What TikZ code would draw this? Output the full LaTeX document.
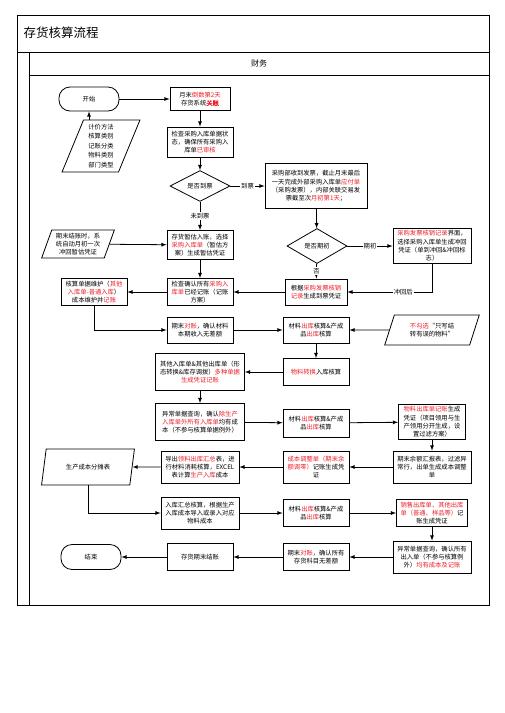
\documentclass[tikz,border=0pt]{standalone}
\usepackage{fontspec}
\setmainfont{Noto Sans CJK SC}[AutoFakeBold=2]
\usepackage{xcolor}
\usetikzlibrary{arrows}
\usetikzlibrary{shapes.geometric}
\definecolor{myred}{RGB}{235, 30, 40}
\newcommand{\redtxt}[1]{\textcolor{myred}{#1}}

\tikzset{
  procbox/.style={draw, line width=0.8pt, rectangle, align=center, inner sep=1pt,
    font=\fontsize{6.3}{8.3}\selectfont},
  termbox/.style={procbox, rounded corners=11pt},
  databox/.style={procbox, trapezium, trapezium left angle=70, trapezium right angle=110,
    trapezium stretches=true},
  decbox/.style={procbox, diamond, inner sep=0pt},
  lbl/.style={fill=white, inner sep=1pt, font=\fontsize{6.3}{8}\selectfont},
  flow/.style={line width=0.8pt, -latex},
}

\begin{document}
\begin{tikzpicture}[x=1pt, y=-1pt]
  \useasboundingbox (0,0) rectangle (504,713);

  % frame and lane
  \draw[line width=0.9pt] (17,15) rectangle (489,605);
  \draw[line width=0.9pt] (17,52) -- (489,52);
  \draw[line width=0.9pt] (29,52) -- (29,605);
  \draw[line width=0.9pt] (29,75) -- (489,75);
  \node[anchor=west, font=\fontsize{12.5}{14}\selectfont] (title) at (20,33) {存货核算流程};
  \node[font=\fontsize{8}{10}\selectfont] (lane) at (259,63) {财务};

  % column 1
  \node[termbox, minimum width=60pt, minimum height=24pt] (start) at (89,99) {开始};
  \node[databox, minimum width=78pt, minimum height=52pt, font=\fontsize{6.3}{9.5}\selectfont] (param) at (101,146)
    {计价方法\\核算类别\\记账分类\\物料类别\\部门类型};
  \node[databox, minimum width=73pt, minimum height=28pt] (autorev) at (78,244)
    {期末结账时，系\\统自动月初一次\\冲回暂估凭证};
  \node[procbox, minimum width=66pt, minimum height=27pt] (otherin) at (94,292)
    {核算单据维护（\redtxt{其他}\\\redtxt{入库单-普通入库}）\\成本维护并\redtxt{记账}};
  \node[databox, minimum width=93pt, minimum height=36pt, trapezium left angle=72,
    trapezium right angle=108] (alloc) at (88,467) {生产成本分摊表};
  \node[termbox, minimum width=60pt, minimum height=25pt] (finish) at (91,557) {结束};

  % column 2
  \node[procbox, minimum width=60pt, minimum height=23pt] (close) at (200,99)
    {月末\redtxt{倒数第2天}\\存货系统\redtxt{\textbf{关账}}};
  \node[procbox, minimum width=66pt, minimum height=30pt] (chkin) at (200,142)
    {检查采购入库单据状\\态，确保所有采购入\\库单\redtxt{已审核}};
  \node[decbox, minimum width=60pt, minimum height=30pt] (ifinv) at (200,186) {是否到票};
  \node[procbox, minimum width=66pt, minimum height=29pt] (estim) at (200,245)
    {存货暂估入账，选择\\\redtxt{采购入库单}（暂估方\\案）生成暂估凭证};
  \node[procbox, minimum width=66pt, minimum height=27pt] (chkpost) at (200,292)
    {检查确认所有\redtxt{采购入}\\\redtxt{库单}已经记账（记账\\方案）};
  \node[procbox, minimum width=66pt, minimum height=26pt] (recon) at (200,330)
    {期末\redtxt{对账}，确认材料\\本期收入无差额};
  \node[procbox, minimum width=89pt, minimum height=37pt] (othvch) at (200,372)
    {其他入库单\&其他出库单（形\\态转换\&库存调拨）\redtxt{多种单据}\\\redtxt{生成凭证记账}};
  \node[procbox, minimum width=89pt, minimum height=37pt] (chkcost) at (200,422)
    {异常单据查询，确认\redtxt{除生产}\\\redtxt{入库单外所有入库单}均有成\\本（不参与核算单据例外）};
  \node[procbox, minimum width=78pt, minimum height=32pt] (export) at (200,467)
    {导出\redtxt{领料出库汇总}表，进\\行材料消耗核算，EXCEL\\表计算\redtxt{生产入库}成本};
  \node[procbox, minimum width=78pt, minimum height=32pt] (incost) at (200,513)
    {入库汇总核算，根据生产\\入库成本导入或录入对应\\物料成本};
  \node[procbox, minimum width=66pt, minimum height=27pt] (yclose) at (200,557) {存货期末结账};

  % column 3
  \node[procbox, minimum width=102pt, minimum height=45pt] (purinv) at (316,186)
    {采购部收到发票，截止月末最后\\一天完成外部采购入库单\redtxt{应付单}\\（采购发票），内部关联交易发\\票截至次\redtxt{月初第1天}；};
  \node[decbox, minimum width=60pt, minimum height=35pt] (ifopen) at (317,246) {是否期初};
  \node[procbox, minimum width=62pt, minimum height=26pt] (invvch) at (316,292)
    {根据\redtxt{采购发票核销}\\\redtxt{记录}生成到票凭证};
  \node[procbox, minimum width=66pt, minimum height=26pt] (outcalc) at (316,330)
    {材料\redtxt{出库}核算\&产成\\品\redtxt{出库}核算};
  \node[procbox, minimum width=66pt, minimum height=27pt] (convin) at (316,372) {\redtxt{物料转换}入库核算};
  \node[procbox, minimum width=66pt, minimum height=28pt] (outcalcb) at (316,423)
    {材料\redtxt{出库}核算\&产成\\品\redtxt{出库}核算};
  \node[procbox, minimum width=66pt, minimum height=32pt] (adjvch) at (316,467)
    {\redtxt{成本调整单（期末余}\\\redtxt{额调零）}记账生成凭\\证};
  \node[procbox, minimum width=66pt, minimum height=27pt] (outcalcc) at (316,513)
    {材料\redtxt{出库}核算\&产成\\品\redtxt{出库}核算};
  \node[procbox, minimum width=66pt, minimum height=27pt] (finrecon) at (316,557)
    {期末\redtxt{对账}，确认所有\\存货科目无差额};

  % column 4
  \node[procbox, minimum width=78pt, minimum height=35pt] (revvch) at (432,246)
    {\redtxt{采购发票核销记录}界面，\\选择采购入库单生成冲回\\凭证（单到冲回\&冲回标\\志）};
  \node[databox, minimum width=95pt, minimum height=30pt] (nosel) at (432,330)
    {\redtxt{不勾选}“只写结\\转有误的物料”};
  \node[procbox, minimum width=67pt, minimum height=35pt] (outvch) at (432,422)
    {\redtxt{物料出库单记账}生成\\凭证（项目领用与生\\产领用分开生成，设\\置过滤方案）};
  \node[procbox, minimum width=78pt, minimum height=32pt] (balrep) at (432,467)
    {期末余额汇报表，过滤异\\常行，出单生成成本调整\\单};
  \node[procbox, minimum width=71pt, minimum height=27pt] (salevch) at (432,513)
    {\redtxt{销售出库单、其他出库}\\\redtxt{单（普通、样品等）}记\\账生成凭证};
  \node[procbox, minimum width=78pt, minimum height=32pt] (chkall) at (432,557)
    {异常单据查询，确认所有\\出入单（不参与核算例\\外）\redtxt{均有成本及记账}};

  % connectors
  \draw[flow] (start) -- (close);
  \draw[flow] (param.north -| start.south) -- (start.south);
  \draw[flow] (close) -- (chkin);
  \draw[flow] (chkin) -- (ifinv);
  \draw[flow] (ifinv) -- node[lbl] (lbhas) {到票} (purinv);
  \draw[flow] (ifinv) -- node[lbl] (lbnone) {未到票} (estim);
  \draw[flow] (autorev) -- (estim);
  \draw[flow] (estim) -- (chkpost);
  \draw[flow] (purinv) -- (ifopen);
  \draw[flow] (ifopen) -- node[lbl] (lbopen) {期初} (revvch);
  \draw[flow] (ifopen) -- node[lbl] (lbno) {否} (invvch);
  \draw[flow] (revvch.south) |- node[lbl, pos=0.67] (lbrev) {冲回后} (invvch.east);
  \draw[flow] (invvch) -- (chkpost);
  \draw[flow] (chkpost) -- (otherin);
  \draw[flow] (otherin.south) |- (recon.west);
  \draw[flow] (recon) -- (outcalc);
  \draw[flow] (nosel) -- (outcalc);
  \draw[flow] (outcalc) -- (convin);
  \draw[flow] (convin) -- (othvch);
  \draw[flow] (othvch) -- (chkcost);
  \draw[flow] (chkcost) -- (outcalcb);
  \draw[flow] (outcalcb) -- (outvch);
  \draw[flow] (outvch) -- (balrep);
  \draw[flow] (balrep) -- (adjvch);
  \draw[flow] (adjvch) -- (export);
  \draw[flow] (export) -- (alloc);
  \draw[flow] (alloc.south) |- (incost.west);
  \draw[flow] (incost) -- (outcalcc);
  \draw[flow] (outcalcc) -- (salevch);
  \draw[flow] (salevch) -- (chkall);
  \draw[flow] (chkall) -- (finrecon);
  \draw[flow] (finrecon) -- (yclose);
  \draw[flow] (yclose) -- (finish);

\end{tikzpicture}
\end{document}
